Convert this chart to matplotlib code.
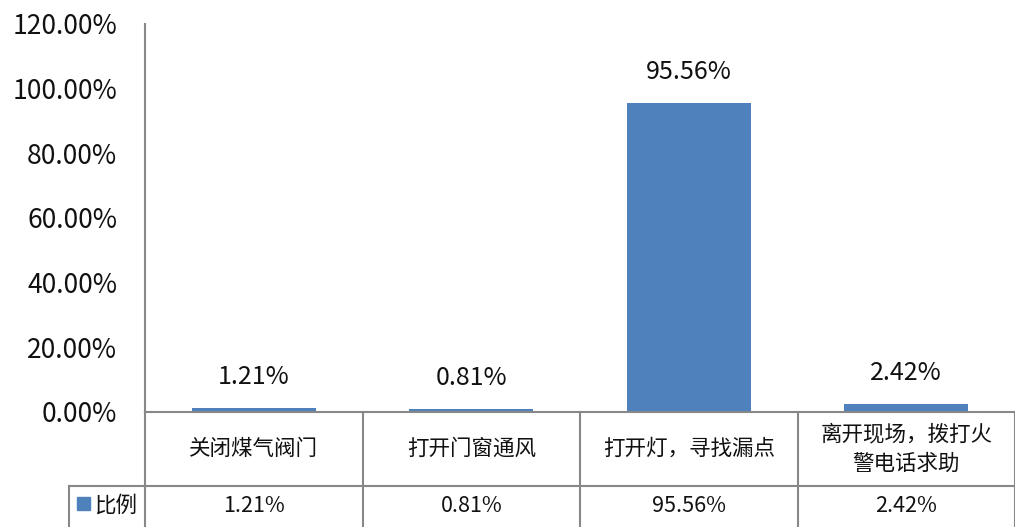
import matplotlib
matplotlib.use("Agg")
import matplotlib.pyplot as plt
from matplotlib.patches import Rectangle

plt.rcParams['font.family'] = ['Noto Sans CJK SC', 'DejaVu Sans']

# data
categories = ["关闭煤气阀门", "打开门窗通风", "打开灯，寻找漏点", "离开现场，拨打火\n警电话求助"]
values = [1.21, 0.81, 95.56, 2.42]
series_name = "比例"
yticks = [0, 20, 40, 60, 80, 100, 120]

W, H = 1015, 527
fig = plt.figure(figsize=(W / 100, H / 100), dpi=100)
x0, x1, y0, y1 = 145, 1015, 412, 24
ax = fig.add_axes([x0 / W, 1 - y0 / H, (x1 - x0) / W, (y0 - y1) / H])

bar_color = "#4F81BD"
grid_color = "#888888"
xs = range(len(categories))
ax.bar(xs, values, width=0.57, color=bar_color, zorder=3)
for x, v in zip(xs, values):
    ax.annotate(f"{v:.2f}%", (x, v), xytext=(0, 13), textcoords="offset points",
                ha="center", va="bottom", fontsize=18, color="#111111")

ax.set_xlim(-0.5, len(categories) - 0.5)
ax.set_ylim(0, 120)
ax.set_yticks(yticks)
ax.set_yticklabels([f"{t:.2f}%" for t in yticks], fontsize=19, color="#111111")
ax.tick_params(axis="y", length=0, pad=20)
ax.set_xticks([])
for s in ["top", "right", "bottom"]:
    ax.spines[s].set_visible(False)
ax.spines["left"].set_color(grid_color)
ax.spines["left"].set_linewidth(1.5)

# data table under the plot (axes-fraction y, data x)
ph = y0 - y1
row1 = -(486 - y0) / ph
row2 = -(H + 2 - y0) / ph
hx = -0.5 - (x0 - 69) / ((x1 - x0) / len(categories))
trans = ax.get_xaxis_transform()
kw = dict(transform=trans, color=grid_color, lw=1.5, clip_on=False, zorder=4)
ax.plot([-0.5, len(categories) - 0.5], [0, 0], **kw)
ax.plot([hx, len(categories) - 0.5], [row1, row1], **kw)
ax.plot([hx, hx], [row1, row2], **kw)
ax.plot([-0.5, -0.5], [0, row2], **kw)
for i in range(1, len(categories) + 1):
    ax.plot([i - 0.5, i - 0.5], [0, row2], **kw)

for x, c, v in zip(xs, categories, values):
    ax.text(x, row1 / 2, c, transform=trans, ha="center", va="center",
            fontsize=15.5, color="#111111", linespacing=1.45)
    ax.text(x, (row1 + row2) / 2 + 0.005, f"{v:.2f}%", transform=trans,
            ha="center", va="center", fontsize=15.5, color="#111111")

# legend key in header cell
fig.patches.append(Rectangle((77 / W, 1 - 510 / H), 13 / W, 13 / H,
                             transform=fig.transFigure, color=bar_color))
fig.text(94 / W, 1 - 506 / H, series_name, ha="left", va="center",
         fontsize=15.5, color="#111111")

fig.savefig("out.png", dpi=100)
